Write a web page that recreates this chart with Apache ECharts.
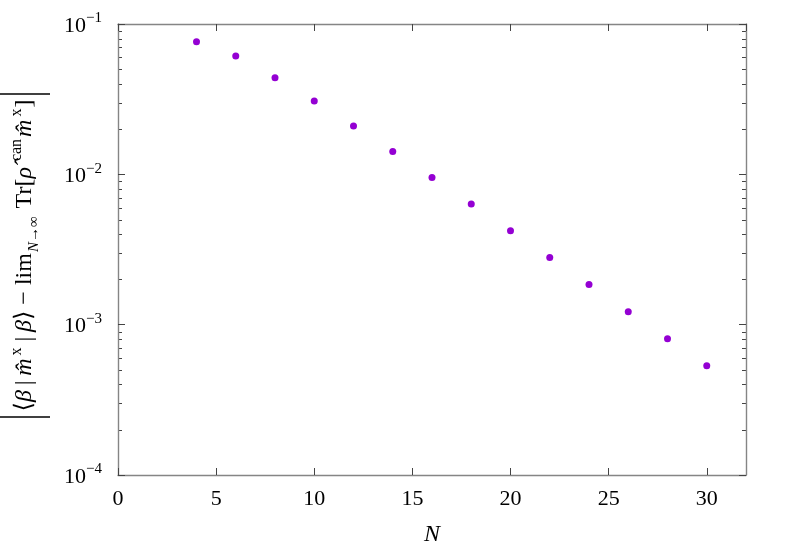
<!DOCTYPE html>
<html>
<head>
<meta charset="utf-8">
<script src="https://cdn.jsdelivr.net/npm/echarts@6/dist/echarts.min.js"></script>
<style>
  html, body { margin: 0; padding: 0; background: #fff; }
  #chart { width: 789px; height: 552px; }
</style>
</head>
<body>
<div id="chart"></div>
<script>
// data
const nValues = [4, 6, 8, 10, 12, 14, 16, 18, 20, 22, 24, 26, 28, 30];
const deviation = [0.0762, 0.0612, 0.0439, 0.0307, 0.0210, 0.01417, 0.00951,
  0.00634, 0.00422, 0.00280, 0.00185, 0.00122, 0.000807, 0.000533];
const xTickValues = [0, 5, 10, 15, 20, 25, 30];
const yDecades = [-4, -3, -2, -1];

const serif = '"Liberation Serif", "DejaVu Serif", serif';
const axisGray = '#858585';
const tickDark = '#444';

const chart = echarts.init(document.getElementById('chart'));

const supLabel = v => {
  const e = Math.round(Math.log10(v));
  if (!yDecades.includes(e)) return '';
  return '{base|10}{sup|\u2212' + Math.abs(e) + '}';
};

// |<β|m̂^x|β> − lim_{N→∞} Tr[ρ̂^can m̂^x]|
const yName = '{bar| }{b|\u2009\u27E8}{i|\u03B2}{b|\u2009|\u2009}{i|m\u0302}{sup|x}{b|\u2009|\u2009}{i|\u03B2}{b|\u27E9 \u2212 lim}'
  + '{sub|N\u2192\u221E}{b| Tr[}{i|\u03C1\u0302}{supw|can}{i|m\u0302}{sup|x}{b|]\u2009}{bar| }{gap| }';

const xAxisBase = {
  type: 'value',
  min: 0,
  max: 32,
  interval: 5,
  axisLine: { onZero: false, lineStyle: { color: axisGray, width: 1.4 } },
  axisTick: { inside: true, length: 7, lineStyle: { color: tickDark, width: 1 } },
  splitLine: { show: false }
};
const yAxisBase = {
  type: 'log',
  logBase: 10,
  min: 1e-4,
  max: 1e-1,
  interval: 1,
  axisLine: { onZero: false, lineStyle: { color: axisGray, width: 1.4 } },
  axisTick: { inside: true, length: 7, lineStyle: { color: tickDark, width: 1 } },
  splitLine: { show: false }
};

const option = {
  animation: false,
  backgroundColor: '#fff',
  grid: { left: 118, right: 43, top: 24, bottom: 77, containLabel: false, outerBoundsMode: 'none' },
  xAxis: [
    Object.assign({}, xAxisBase, {
      position: 'bottom',
      name: 'N',
      nameLocation: 'middle',
      nameGap: 48,
      nameTextStyle: { fontFamily: serif, fontStyle: 'italic', fontSize: 24, color: '#000' },
      axisLabel: {
        margin: 13,
        fontFamily: serif,
        fontSize: 22,
        color: '#000',
        showMaxLabel: false,
        formatter: v => (xTickValues.includes(v) ? String(v) : '')
      }
    }),
    Object.assign({}, xAxisBase, { position: 'top', axisLabel: { show: false } })
  ],
  yAxis: [
    Object.assign({}, yAxisBase, {
      position: 'left',
      name: yName,
      nameLocation: 'middle',
      nameRotate: 90,
      nameGap: 68,
      nameTextStyle: {
        fontFamily: serif,
        fontSize: 24,
        color: '#000',
        rich: {
          b: { fontFamily: serif, fontSize: 24, color: '#000' },
          i: { fontFamily: serif, fontSize: 24, fontStyle: 'italic', color: '#000' },
          sup: { fontFamily: serif, fontSize: 16, color: '#000', padding: [0, 1, 16, 3] },
          supw: { fontFamily: serif, fontSize: 16, color: '#000', padding: [0, 2, 16, 6] },
          sub: { fontFamily: serif, fontSize: 15, color: '#000', fontStyle: 'italic', padding: [18, 2, 0, 1] },
          bar: { width: 1.6, height: 50, backgroundColor: '#000' },
          gap: { width: 12 }
        }
      },
      axisLabel: {
        margin: 16,
        formatter: supLabel,
        rich: {
          base: { fontFamily: serif, fontSize: 22, color: '#000', lineHeight: 26, verticalAlign: 'bottom' },
          sup: { fontFamily: serif, fontSize: 15, color: '#000', verticalAlign: 'top' }
        }
      }
    }),
    Object.assign({}, yAxisBase, { position: 'right', axisLabel: { show: false } })
  ],
  series: [{
    type: 'scatter',
    data: nValues.map((n, i) => [n, deviation[i]]),
    symbol: 'circle',
    symbolSize: 7,
    itemStyle: { color: '#9400d3', opacity: 1 }
  }]
};

chart.setOption(option);

// log-spaced minor ticks on both vertical axes, placed through the y scale
const minorTicks = [];
const xLeft = chart.convertToPixel({ xAxisIndex: 0 }, 0);
const xRight = chart.convertToPixel({ xAxisIndex: 0 }, 32);
yDecades.slice(0, -1).forEach(e => {
  for (let m = 2; m <= 9; m++) {
    const py = Math.round(chart.convertToPixel({ yAxisIndex: 0 }, m * Math.pow(10, e))) + 0.5;
    minorTicks.push(
      { type: 'line', shape: { x1: xLeft, y1: py, x2: xLeft + 4, y2: py }, style: { stroke: tickDark, lineWidth: 1 } },
      { type: 'line', shape: { x1: xRight - 4, y1: py, x2: xRight, y2: py }, style: { stroke: tickDark, lineWidth: 1 } }
    );
  }
});
chart.setOption({ graphic: minorTicks });
</script>
</body>
</html>
